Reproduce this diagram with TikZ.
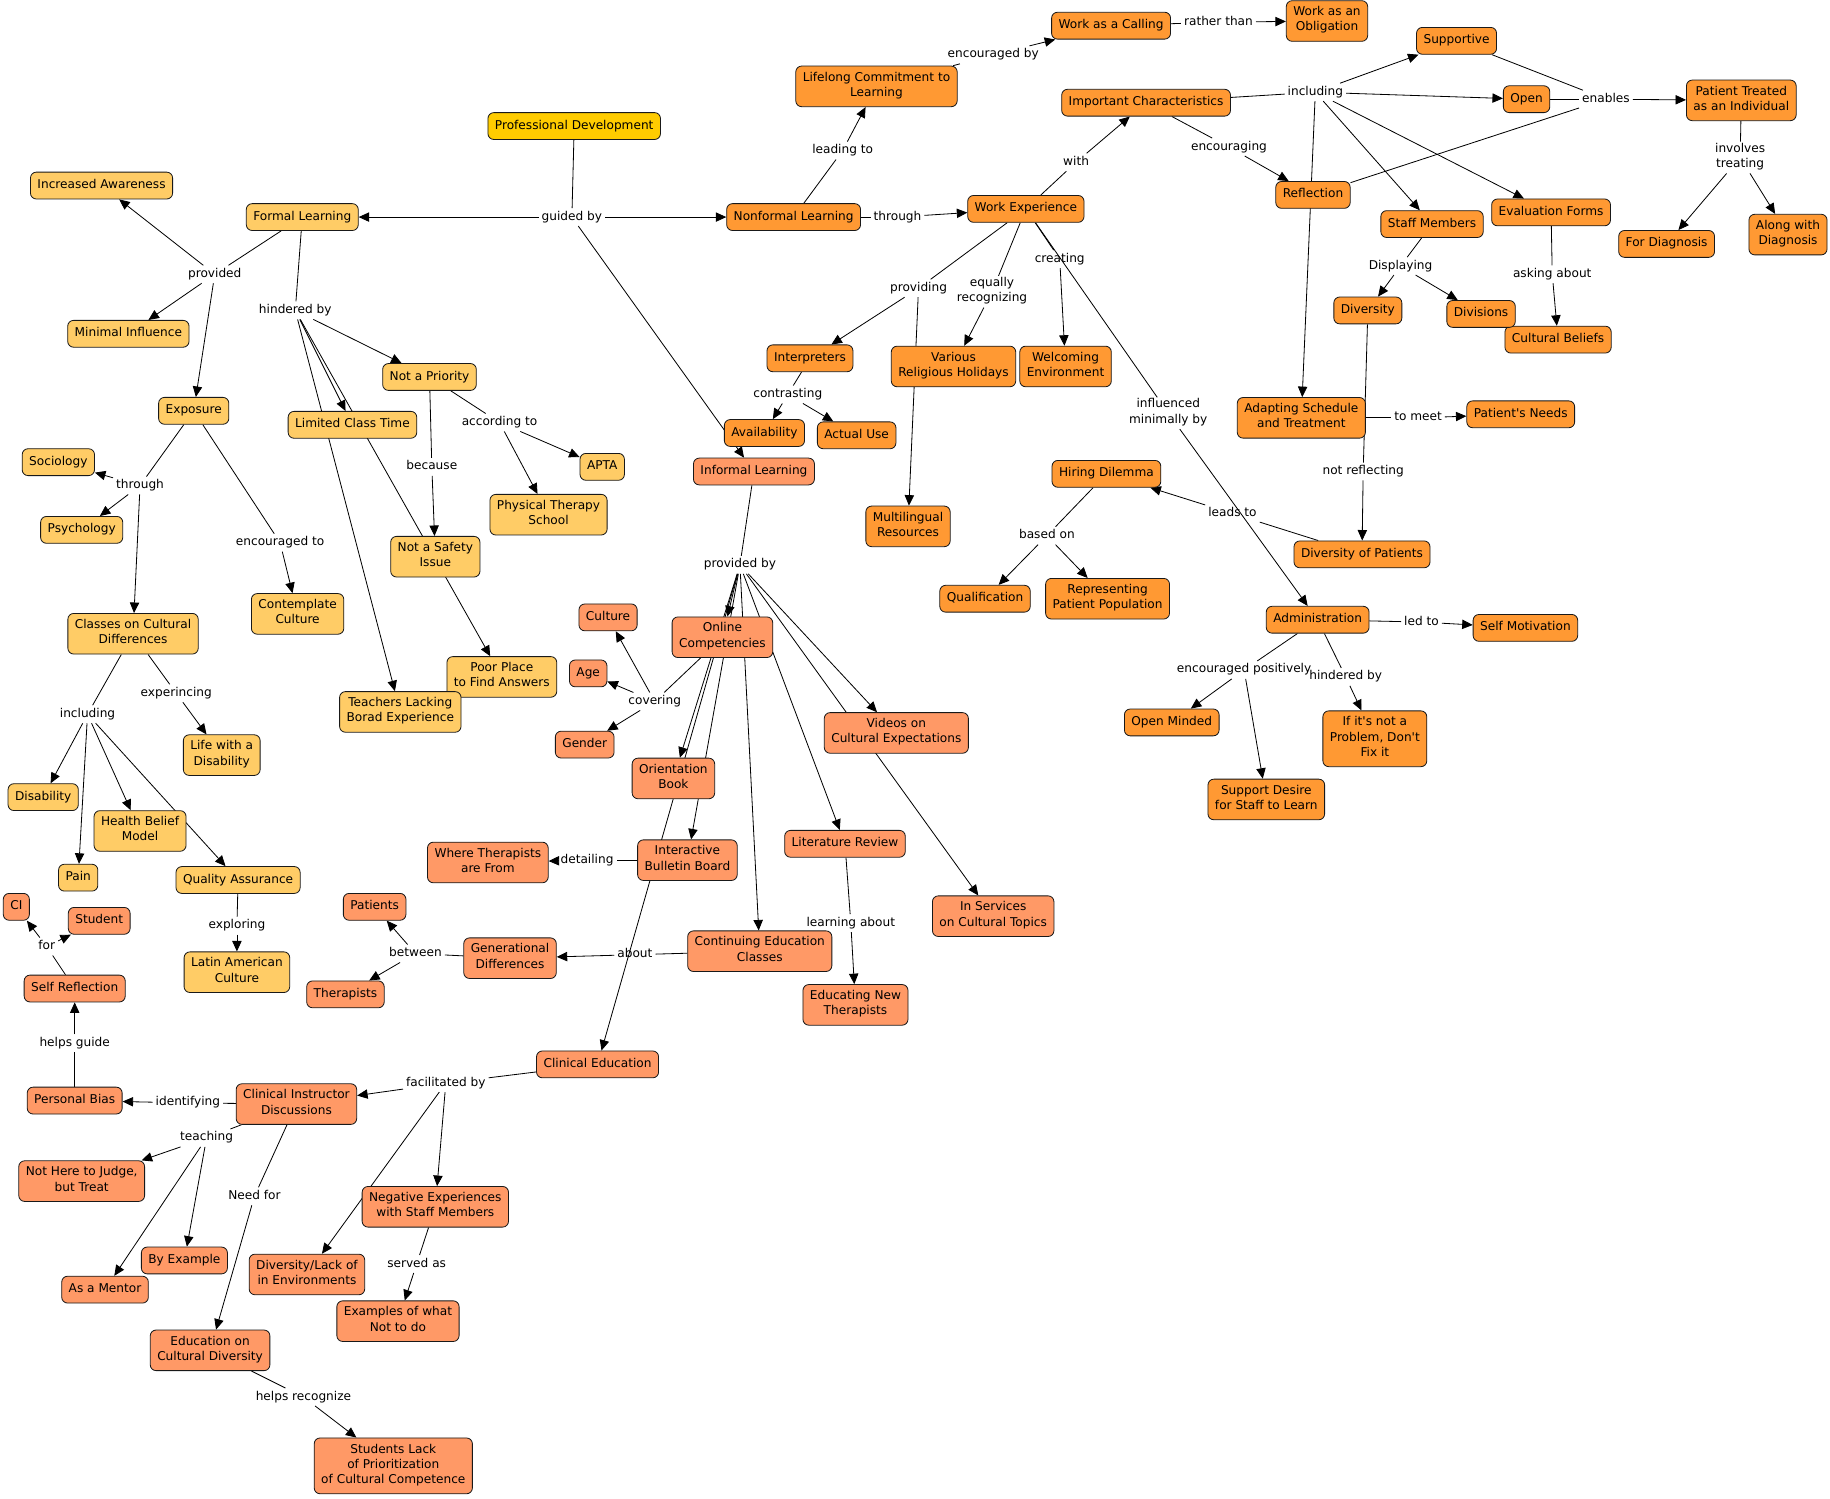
\documentclass[tikz,border=0pt]{standalone}
\usepackage{fontspec}
\setmainfont{DejaVu Sans}[Ligatures=TeXOff]
\usetikzlibrary{arrows.meta}
\pgfdeclarelayer{bgfill}
\pgfdeclarelayer{edges}
\pgfsetlayers{bgfill,edges,main}
\definecolor{cgold}{HTML}{FFCC00}
\definecolor{cformal}{HTML}{FFCC66}
\definecolor{cnonf}{HTML}{FF9933}
\definecolor{cinf}{HTML}{FF9966}
\newcommand\cmfont{\fontsize{10.4}{13}\selectfont}
\tikzset{
 concept/.style={draw=black!90, line width=0.7pt, rounded corners=5pt, align=center, font=\cmfont, inner xsep=6pt, inner ysep=5pt, execute at begin node=\strut, execute at end node=\strut},
 goldc/.style={concept, fill=cgold},
 formalc/.style={concept, fill=cformal},
 nonfc/.style={concept, fill=cnonf},
 infc/.style={concept, fill=cinf},
 lab/.style={align=center, font=\cmfont, inner xsep=2.5pt, inner ysep=1pt, execute at begin node=\strut, execute at end node=\strut},
 ar/.style={-{Triangle[length=9pt,width=8pt]}, line width=0.7pt},
 ln/.style={line width=0.7pt},
}
\begin{document}
\begin{tikzpicture}[x=1pt,y=-1pt]
\useasboundingbox (0,0) rectangle (1568,1284);
\begin{pgfonlayer}{bgfill}
\fill[white] (0,0) rectangle (1568,1284);
\end{pgfonlayer}

% ---------- root
\node[goldc] (pd) at (492,108) {Professional Development};

% ---------- formal learning
\node[formalc] (incaw) at (87,159) {Increased Awareness};
\node[formalc] (fl) at (259,186) {Formal Learning};
\node[formalc] (minin) at (110,286) {Minimal Influence};
\node[formalc] (expo) at (166,352) {Exposure};
\node[formalc] (nap) at (368,323) {Not a Priority};
\node[formalc] (lct) at (302,364) {Limited Class Time};
\node[formalc] (soc) at (50,396) {Sociology};
\node[formalc] (psy) at (70,454) {Psychology};
\node[formalc] (apta) at (516,400) {APTA};
\node[formalc] (pts) at (470,441) {Physical Therapy\\School};
\node[formalc] (nsi) at (373,477) {Not a Safety\\Issue};
\node[formalc] (ccd) at (114,543) {Classes on Cultural\\Differences};
\node[formalc] (cc) at (255,526) {Contemplate\\Culture};
\node[formalc] (ppf) at (430,580) {Poor Place\\to Find Answers};
\node[formalc] (tlb) at (343,610) {Teachers Lacking\\Borad Experience};
\node[formalc] (lwd) at (190,647) {Life with a\\Disability};
\node[formalc] (dis) at (37,683) {Disability};
\node[formalc] (hbm) at (120,712) {Health Belief\\Model};
\node[formalc] (pain) at (67,752) {Pain};
\node[formalc] (qa) at (204,754) {Quality Assurance};
\node[formalc] (lac) at (203,833) {Latin American\\Culture};

% ---------- nonformal learning
\node[nonfc] (wac) at (952,22) {Work as a Calling};
\node[nonfc] (wao) at (1137,18) {Work as an\\Obligation};
\node[nonfc] (lcl) at (751,74) {Lifelong Commitment to\\Learning};
\node[nonfc] (sup) at (1248,35) {Supportive};
\node[nonfc] (ic) at (982,88) {Important Characteristics};
\node[nonfc] (open) at (1308,85) {Open};
\node[nonfc] (pti) at (1492,86) {Patient Treated\\as an Individual};
\node[nonfc] (nfl) at (680,186) {Nonformal Learning};
\node[nonfc] (we) at (879,179) {Work Experience};
\node[nonfc] (refl) at (1125,167) {Reflection};
\node[nonfc] (staff) at (1227,192) {Staff Members};
\node[nonfc] (eval) at (1329,182) {Evaluation Forms};
\node[nonfc] (fdiag) at (1428,209) {For Diagnosis};
\node[nonfc] (awd) at (1532,201) {Along with\\Diagnosis};
\node[nonfc] (div) at (1172,266) {Diversity};
\node[nonfc] (cb) at (1335,291) {Cultural Beliefs};
\node[nonfc] (divs) at (1269,269) {Divisions};
\node[nonfc] (interp) at (694,307) {Interpreters};
\node[nonfc] (vrh) at (817,314) {Various\\Religious Holidays};
\node[nonfc] (wenv) at (913,314) {Welcoming\\Environment};
\node[nonfc] (ast) at (1115,358) {Adapting Schedule\\and Treatment};
\node[nonfc] (pn) at (1303,355) {Patient's Needs};
\node[nonfc] (avail) at (655,371) {Availability};
\node[nonfc] (au) at (734,373) {Actual Use};
\node[nonfc] (hd) at (948,406) {Hiring Dilemma};
\node[nonfc] (mr) at (778,451) {Multilingual\\Resources};
\node[nonfc] (dop) at (1167,475) {Diversity of Patients};
\node[nonfc] (qual) at (844,513) {Qualification};
\node[nonfc] (rpp) at (949,513) {Representing\\Patient Population};
\node[nonfc] (adm) at (1129,531) {Administration};
\node[nonfc] (sm) at (1307,538) {Self Motivation};
\node[nonfc] (om) at (1004,619) {Open Minded};
\node[nonfc] (inp) at (1178,633) {If it's not a\\Problem, Don't\\Fix it};
\node[nonfc] (sds) at (1085,685) {Support Desire\\for Staff to Learn};

% ---------- informal learning
\node[infc] (il) at (646,404) {Informal Learning};
\node[infc] (cult) at (521,529) {Culture};
\node[infc] (oc) at (619,546) {Online\\Competencies};
\node[infc] (age) at (504,577) {Age};
\node[infc] (gen) at (501,638) {Gender};
\node[infc] (vce) at (768,628) {Videos on\\Cultural Expectations};
\node[infc] (ob) at (577,667) {Orientation\\Book};
\node[infc] (lr) at (724,723) {Literature Review};
\node[infc] (wtf) at (418,739) {Where Therapists\\are From};
\node[infc] (ibb) at (589,737) {Interactive\\Bulletin Board};
\node[infc] (pat) at (321,777) {Patients};
\node[infc] (isc) at (851,785) {In Services\\on Cultural Topics};
\node[infc] (ci) at (14,777) {CI};
\node[infc] (stu) at (85,789) {Student};
\node[infc] (gd) at (437,821) {Generational\\Differences};
\node[infc] (cec) at (651,815) {Continuing Education\\Classes};
\node[infc] (sr) at (64,847) {Self Reflection};
\node[infc] (ther) at (296,852) {Therapists};
\node[infc] (ent) at (733,861) {Educating New\\Therapists};
\node[infc] (ce) at (512,912) {Clinical Education};
\node[infc] (pb) at (64,943) {Personal Bias};
\node[infc] (cid) at (254,946) {Clinical Instructor\\Discussions};
\node[infc] (nhj) at (70,1012) {Not Here to Judge,\\but Treat};
\node[infc] (nes) at (373,1034) {Negative Experiences\\with Staff Members};
\node[infc] (bye) at (158,1080) {By Example};
\node[infc] (dle) at (263,1092) {Diversity/Lack of\\in Environments};
\node[infc] (mentor) at (90,1105) {As a Mentor};
\node[infc] (ewn) at (341,1132) {Examples of what\\Not to do};
\node[infc] (ecd) at (180,1157) {Education on\\Cultural Diversity};
\node[infc] (slp) at (337,1256) {Students Lack\\of Prioritization\\of Cultural Competence};

% ---------- linking phrases
\node[lab] (l1) at (490,186) {guided by};
\node[lab] (l2) at (722,129) {leading to};
\node[lab] (l3) at (851,47) {encouraged by};
\node[lab] (l4) at (1044,19) {rather than};
\node[lab] (l5) at (769,186) {through};
\node[lab] (l6) at (922,139) {with};
\node[lab] (l7) at (1127,79) {including};
\node[lab] (l8) at (1053,126) {encouraging};
\node[lab] (l9) at (1376,85) {enables};
\node[lab] (l10) at (1491,135) {involves\\treating};
\node[lab] (l11) at (1200,228) {Displaying};
\node[lab] (l12) at (1330,235) {asking about};
\node[lab] (l13) at (1168,404) {not reflecting};
\node[lab] (l14) at (1215,358) {to meet};
\node[lab] (l15) at (1056,440) {leads to};
\node[lab] (l16) at (897,459) {based on};
\node[lab] (l17) at (787,247) {providing};
\node[lab] (l18) at (850,250) {equally\\recognizing};
\node[lab] (l19) at (908,222) {creating};
\node[lab] (l20) at (1001,354) {influenced\\minimally by};
\node[lab] (l21) at (675,338) {contrasting};
\node[lab] (l22) at (1218,533) {led to};
\node[lab] (l23) at (1066,574) {encouraged positively};
\node[lab] (l24) at (1153,580) {hindered by};
\node[lab] (l25) at (184,235) {provided};
\node[lab] (l26) at (253,266) {hindered by};
\node[lab] (l27) at (428,362) {according to};
\node[lab] (l28) at (370,400) {because};
\node[lab] (l29) at (120,416) {through};
\node[lab] (l30) at (240,465) {encouraged to};
\node[lab] (l31) at (75,612) {including};
\node[lab] (l32) at (151,594) {experincing};
\node[lab] (l33) at (203,793) {exploring};
\node[lab] (l34) at (634,484) {provided by};
\node[lab] (l35) at (561,601) {covering};
\node[lab] (l36) at (503,737) {detailing};
\node[lab] (l37) at (544,818) {about};
\node[lab] (l38) at (356,817) {between};
\node[lab] (l39) at (729,791) {learning about};
\node[lab] (l40) at (382,928) {facilitated by};
\node[lab] (l41) at (161,945) {identifying};
\node[lab] (l42) at (64,894) {helps guide};
\node[lab] (l43) at (40,811) {for};
\node[lab] (l44) at (177,975) {teaching};
\node[lab] (l45) at (218,1025) {Need for};
\node[lab] (l46) at (357,1083) {served as};
\node[lab] (l47) at (260,1197) {helps recognize};

% ---------- connectors
\begin{pgfonlayer}{edges}
\draw[ln] (pd) -- (l1);
\draw[ar] (l1) -- (fl);
\draw[ar] (l1) -- (nfl);
\draw[ar] (l1) -- (il);

\draw[ln] (nfl) -- (l2); \draw[ar] (l2) -- (lcl);
\draw[ln] (lcl) -- (l3); \draw[ar] (l3) -- (wac);
\draw[ln] (wac) -- (l4); \draw[ar] (l4) -- (wao);
\draw[ln] (nfl) -- (l5); \draw[ar] (l5) -- (we);
\draw[ln] (we) -- (l6); \draw[ar] (l6) -- (ic);
\draw[ln] (ic) -- (l7);
\draw[ar] (l7) -- (sup); \draw[ar] (l7) -- (open); \draw[ar] (l7) -- (staff);
\draw[ar] (l7) -- (eval); \draw[ar] (l7) -- (ast);
\draw[ln] (ic) -- (l8); \draw[ar] (l8) -- (refl);
\draw[ln] (sup) -- (l9); \draw[ln] (open) -- (l9); \draw[ln] (refl) -- (l9);
\draw[ar] (l9) -- (pti);
\draw[ln] (pti) -- (l10); \draw[ar] (l10) -- (fdiag); \draw[ar] (l10) -- (awd);
\draw[ln] (staff) -- (l11); \draw[ar] (l11) -- (div); \draw[ar] (l11) -- (divs);
\draw[ln] (eval) -- (l12); \draw[ar] (l12) -- (cb);
\draw[ln] (div) -- (l13); \draw[ar] (l13) -- (dop);
\draw[ln] (ast) -- (l14); \draw[ar] (l14) -- (pn);
\draw[ln] (dop) -- (l15); \draw[ar] (l15) -- (hd);
\draw[ln] (hd) -- (l16); \draw[ar] (l16) -- (qual); \draw[ar] (l16) -- (rpp);
\draw[ln] (we) -- (l17); \draw[ar] (l17) -- (interp); \draw[ar] (l17) -- (mr);
\draw[ln] (we) -- (l18); \draw[ar] (l18) -- (vrh);
\draw[ln] (we) -- (l19); \draw[ar] (l19) -- (wenv);
\draw[ln] (we) -- (l20); \draw[ar] (l20) -- (adm);
\draw[ln] (interp) -- (l21); \draw[ar] (l21) -- (avail); \draw[ar] (l21) -- (au);
\draw[ln] (adm) -- (l22); \draw[ar] (l22) -- (sm);
\draw[ln] (adm) -- (l23); \draw[ar] (l23) -- (om); \draw[ar] (l23) -- (sds);
\draw[ln] (adm) -- (l24); \draw[ar] (l24) -- (inp);

\draw[ln] (fl) -- (l25); \draw[ar] (l25) -- (incaw); \draw[ar] (l25) -- (minin); \draw[ar] (l25) -- (expo);
\draw[ln] (fl) -- (l26); \draw[ar] (l26) -- (nap); \draw[ar] (l26) -- (lct);
\draw[ar] (l26) -- (ppf); \draw[ar] (l26) -- (tlb);
\draw[ln] (nap) -- (l27); \draw[ar] (l27) -- (apta); \draw[ar] (l27) -- (pts);
\draw[ln] (nap) -- (l28); \draw[ar] (l28) -- (nsi);
\draw[ln] (expo) -- (l29); \draw[ar] (l29) -- (soc); \draw[ar] (l29) -- (psy); \draw[ar] (l29) -- (ccd);
\draw[ln] (expo) -- (l30); \draw[ar] (l30) -- (cc);
\draw[ln] (ccd) -- (l31); \draw[ar] (l31) -- (dis); \draw[ar] (l31) -- (pain);
\draw[ar] (l31) -- (hbm); \draw[ar] (l31) -- (qa);
\draw[ln] (ccd) -- (l32); \draw[ar] (l32) -- (lwd);
\draw[ln] (qa) -- (l33); \draw[ar] (l33) -- (lac);

\draw[ln] (il) -- (l34);
\draw[ar] (l34) -- (oc); \draw[ar] (l34) -- (ob); \draw[ar] (l34) -- (ibb);
\draw[ar] (l34) -- (cec); \draw[ar] (l34) -- (lr); \draw[ar] (l34) -- (vce);
\draw[ar] (l34) -- (isc); \draw[ar] (l34) -- (ce);
\draw[ln] (oc) -- (l35); \draw[ar] (l35) -- (cult); \draw[ar] (l35) -- (age); \draw[ar] (l35) -- (gen);
\draw[ln] (ibb) -- (l36); \draw[ar] (l36) -- (wtf);
\draw[ln] (cec) -- (l37); \draw[ar] (l37) -- (gd);
\draw[ln] (gd) -- (l38); \draw[ar] (l38) -- (pat); \draw[ar] (l38) -- (ther);
\draw[ln] (lr) -- (l39); \draw[ar] (l39) -- (ent);
\draw[ln] (ce) -- (l40); \draw[ar] (l40) -- (cid); \draw[ar] (l40) -- (nes); \draw[ar] (l40) -- (dle);
\draw[ln] (cid) -- (l41); \draw[ar] (l41) -- (pb);
\draw[ln] (pb) -- (l42); \draw[ar] (l42) -- (sr);
\draw[ln] (sr) -- (l43); \draw[ar] (l43) -- (ci); \draw[ar] (l43) -- (stu);
\draw[ln] (cid) -- (l44); \draw[ar] (l44) -- (nhj); \draw[ar] (l44) -- (bye); \draw[ar] (l44) -- (mentor);
\draw[ln] (cid) -- (l45); \draw[ar] (l45) -- (ecd);
\draw[ln] (nes) -- (l46); \draw[ar] (l46) -- (ewn);
\draw[ln] (ecd) -- (l47); \draw[ar] (l47) -- (slp);
\end{pgfonlayer}
\end{tikzpicture}
\end{document}
